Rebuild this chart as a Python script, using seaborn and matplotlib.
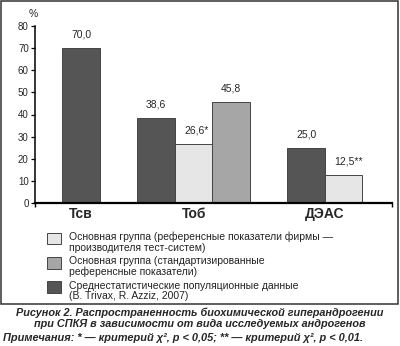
import matplotlib
matplotlib.use('Agg')
import matplotlib.pyplot as plt
import seaborn as sns
import pandas as pd
from matplotlib.patches import Rectangle, Patch
from matplotlib.legend_handler import HandlerPatch

# ---- data ----
categories = ['Тсв', 'Тоб', 'ДЭАС']
population = [70.0, 38.6, 25.0]          # dark
reference_firm = [None, 26.6, 12.5]      # light
standardized = [None, 45.8, None]        # medium
labels_population = ['70,0', '38,6', '25,0']
labels_firm = [None, '26,6*', '12,5**']
labels_standardized = [None, '45,8', None]

series_names = [
    'Среднестатистические популяционные данные\n(B. Trivax, R. Azziz, 2007)',
    'Основная группа (референсные показатели фирмы —\nпроизводителя тест-систем)',
    'Основная группа (стандартизированные\nреференсные показатели)',
]
series_values = [population, reference_firm, standardized]
series_labels = [labels_population, labels_firm, labels_standardized]
colors = ['#555555', '#e6e6e6', '#a6a6a6']

caption = ('Рисунок 2. Распространенность биохимической гиперандрогении\n'
           'при СПКЯ в зависимости от вида исследуемых андрогенов')
notes = 'Примечания: * — критерий χ², p < 0,05; ** — критерий χ², p < 0,01.'

# ---- layout: group centres in bar-width units ----
centers = [0.0, 3.0, 6.5]

rows = []
for i, cat in enumerate(categories):
    present = [s for s in range(len(series_names)) if series_values[s][i] is not None]
    n = len(present)
    for k, s in enumerate(present):
        rows.append(dict(category=cat, series=series_names[s],
                         pos=centers[i] + k - (n - 1) / 2,
                         value=series_values[s][i], label=series_labels[s][i]))
df = pd.DataFrame(rows)

sns.set_style('ticks')
plt.rcParams['font.family'] = ['Liberation Sans', 'DejaVu Sans']

fig = plt.figure(figsize=(4.0, 3.46), dpi=100)
ax = fig.add_axes([35 / 400, 1 - 203 / 346, (392 - 35) / 400, (203 - 26) / 346])

sns.barplot(data=df, x='pos', y='value', hue='series', hue_order=series_names,
            palette=colors, native_scale=True, dodge=False, width=1.0,
            errorbar=None, edgecolor='#444444', linewidth=0.7, legend=False, ax=ax)

ax.set_xlim(-1.23, 8.29)
ax.set_ylim(0, 80)
ax.set_yticks(range(0, 81, 10))
ax.set_xticks(centers)
ax.set_xticklabels(categories, fontsize=10, fontweight='bold')
ax.set_xticks([-1.23, 8.29], minor=True)
ax.set_xlabel('')
ax.set_ylabel('')
ax.tick_params(axis='y', labelsize=7, length=3, width=0.9, pad=1.5, color='black')
ax.tick_params(axis='x', which='major', length=0, pad=3)
ax.tick_params(axis='x', which='minor', length=3, width=1, color='black')
for side in ['top', 'right']:
    ax.spines[side].set_visible(False)
ax.spines['left'].set_linewidth(1.1)
ax.spines['bottom'].set_linewidth(1.6)
ax.spines['left'].set_color('black')
ax.spines['bottom'].set_color('black')

for _, r in df.iterrows():
    stars = r['label'].count('*')
    ax.annotate(r['label'], (r['pos'], r['value']), xytext=(1.9 * stars, 9.7),
                textcoords='offset points', ha='center', va='center', fontsize=7.5)

fig.text(33 / 400, 1 - 14 / 346, '%', ha='center', va='center', fontsize=7.5)


def raised_square(legend, orig_handle, xdescent, ydescent, width, height, fontsize):
    return Rectangle((-xdescent, -ydescent + 3.0), width, height)


handles = [Patch(facecolor=colors[i], edgecolor='#444444', linewidth=0.7) for i in [1, 2, 0]]
leg_labels = [series_names[i] for i in [1, 2, 0]]
leg = fig.legend(handles, leg_labels, loc='upper left',
                 bbox_to_anchor=(47 / 400, 1 - 232 / 346), bbox_transform=fig.transFigure,
                 frameon=False, fontsize=7.5, handlelength=1.35, handleheight=1.3,
                 handletextpad=0.8, labelspacing=0.35, borderpad=0, borderaxespad=0,
                 handler_map={Patch: HandlerPatch(patch_func=raised_square)})
for t in leg.get_texts():
    t.set_linespacing(1.02)
    t.set_color('#222222')

fig.add_artist(Rectangle((1 / 400, 1 - 304 / 346), 397 / 400, 303 / 346,
                         transform=fig.transFigure, fill=False,
                         edgecolor='#333333', linewidth=1.1))

fig.text(0.5, 1 - 318 / 346, caption, ha='center', va='center', fontsize=7.8,
         fontweight='bold', fontstyle='italic', linespacing=1.1)
fig.text(3 / 400, 1 - 338 / 346, notes, ha='left', va='center', fontsize=7.95,
         fontweight='bold', fontstyle='italic')

fig.savefig('out.png', dpi=100)
